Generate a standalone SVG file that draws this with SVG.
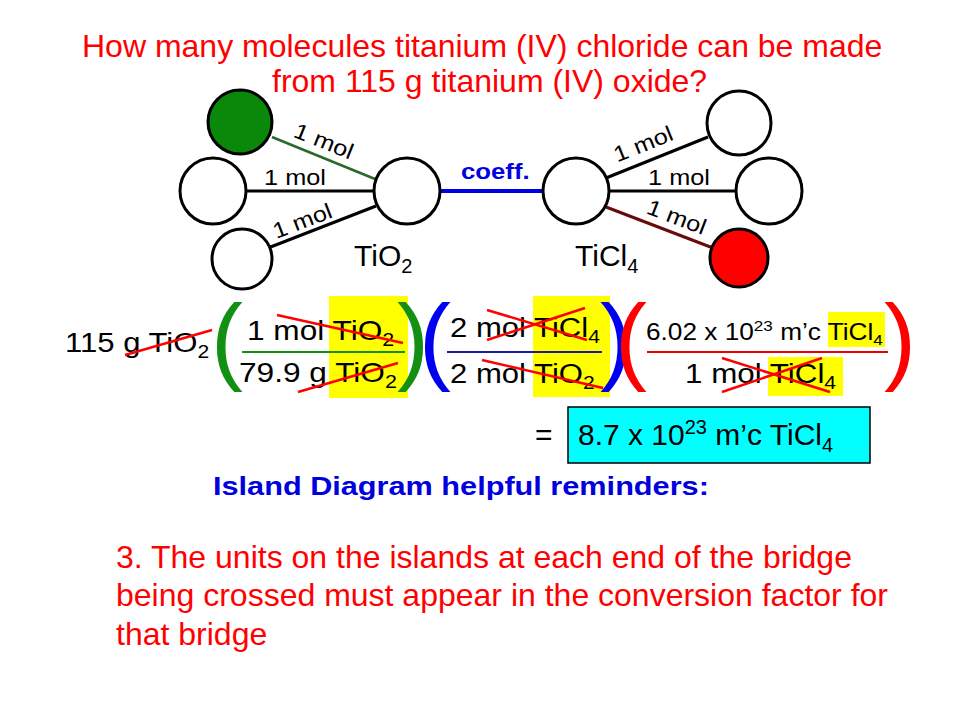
<svg xmlns="http://www.w3.org/2000/svg" width="960" height="720" viewBox="0 0 960 720">
<style>
text{font-family:"Liberation Sans",Arial,sans-serif;}
.isl{stroke:#000;stroke-width:3;fill:#fff;}
.lab{font-size:30px;fill:#000;}
.mol{font-size:22px;fill:#000;text-anchor:middle;}
.fr{font-size:28px;fill:#000;}
.strike{stroke:#f00;stroke-width:2.5;fill:none;}
.hl{fill:#ffff00;}
.par{font-size:96px;}
</style>
<rect width="960" height="720" fill="#fff"/>

<g id="title">
<text x="82" y="57" fill="#f00" font-size="32">How many molecules titanium (IV) chloride can be made</text>
<text x="272" y="92" fill="#f00" font-size="32">from 115 g titanium (IV) oxide?</text>
</g>

<g id="connectors">
<line x1="272" y1="137" x2="375" y2="179" stroke="#2a6a2a" stroke-width="2.5"/>
<line x1="246" y1="191" x2="374" y2="191" stroke="#000" stroke-width="3"/>
<line x1="268" y1="248" x2="376" y2="206" stroke="#000" stroke-width="3"/>
<line x1="440" y1="191" x2="543" y2="191" stroke="#0000e6" stroke-width="4"/>
<line x1="606" y1="178" x2="708" y2="137" stroke="#000" stroke-width="3"/>
<line x1="609" y1="191" x2="736" y2="191" stroke="#000" stroke-width="3"/>
<line x1="606" y1="207" x2="713" y2="248" stroke="#6a0a0a" stroke-width="3"/>
</g>

<g id="island-green"><circle class="isl" cx="240" cy="122" r="32" style="fill:#0a880a"/></g>
<g id="island-left-mid"><circle class="isl" cx="213" cy="191" r="33"/></g>
<g id="island-left-low"><circle class="isl" cx="242" cy="259" r="30"/></g>
<g id="island-tio2"><circle class="isl" cx="407" cy="191" r="33"/>
<text class="lab" x="354" y="266">TiO<tspan font-size="20" dy="7">2</tspan></text></g>
<g id="island-ticl4"><circle class="isl" cx="576" cy="191" r="33"/>
<text class="lab" x="575" y="266">TiCl<tspan font-size="20" dy="7">4</tspan></text></g>
<g id="island-right-top"><circle class="isl" cx="739" cy="123" r="32"/></g>
<g id="island-right-mid"><circle class="isl" cx="769" cy="191" r="33"/></g>
<g id="island-red"><circle class="isl" cx="739" cy="258" r="29" style="fill:#f00"/></g>

<g id="bridge-labels">
<text class="mol" transform="translate(321,148) rotate(22) scale(1.15,1)">1 mol</text>
<text class="mol" transform="translate(295,185) scale(1.15,1)">1 mol</text>
<text class="mol" transform="translate(305,228) rotate(-21) scale(1.15,1)">1 mol</text>
<text class="mol" transform="translate(646,151) rotate(-22) scale(1.15,1)">1 mol</text>
<text class="mol" transform="translate(679,185) scale(1.15,1)">1 mol</text>
<text class="mol" transform="translate(674,224) rotate(21) scale(1.15,1)">1 mol</text>
<text transform="translate(461,179) scale(1.17,1)" font-size="22" font-weight="bold" fill="#0000e0">coeff.</text>
</g>

<g id="calculation">
<rect class="hl" x="329" y="296" width="79" height="102"/>
<rect class="hl" x="533" y="296" width="77" height="101"/>
<rect class="hl" x="828" y="312" width="57" height="35"/>
<rect class="hl" x="768" y="357" width="75" height="39"/>

<text class="fr" transform="translate(65,352) scale(1.11,1)">115 g TiO<tspan font-size="19" dy="6">2</tspan></text>

<text class="par" x="211" y="372" fill="#139013">(</text>
<text class="par" x="397" y="372" fill="#139013">)</text>
<text class="par" x="419" y="372" fill="#0000f0">(</text>
<text class="par" x="600" y="372" fill="#0000f0">)</text>
<text class="par" x="615" y="372" fill="#f00">(</text>
<text class="par" x="884" y="372" fill="#f00">)</text>

<text class="fr" transform="translate(247,340) scale(1.13,1)">1 mol TiO<tspan font-size="19" dy="6">2</tspan></text>
<line x1="242" y1="352" x2="405" y2="352" stroke="#139013" stroke-width="2"/>
<text class="fr" transform="translate(239,382) scale(1.13,1)">79.9 g TiO<tspan font-size="19" dy="6">2</tspan></text>

<text class="fr" transform="translate(450,337) scale(1.11,1)">2 mol TiCl<tspan font-size="19" dy="6">4</tspan></text>
<line x1="447" y1="352" x2="602" y2="352" stroke="#1a1aa0" stroke-width="2"/>
<text class="fr" transform="translate(450,383) scale(1.11,1)">2 mol TiO<tspan font-size="19" dy="6">2</tspan></text>

<text transform="translate(646,340) scale(1.14,1)" font-size="23" fill="#000">6.02 x 10<tspan font-size="15" dy="-9">23</tspan><tspan dy="9"> m’c TiCl</tspan><tspan font-size="15" dy="5">4</tspan></text>
<line x1="647" y1="352" x2="888" y2="352" stroke="#e00" stroke-width="2"/>
<text class="fr" transform="translate(685,383) scale(1.12,1)">1 mol TiCl<tspan font-size="19" dy="6">4</tspan></text>

<line class="strike" x1="125" y1="355" x2="212" y2="330"/>
<line class="strike" x1="277" y1="315" x2="403" y2="343"/>
<line class="strike" x1="298" y1="392" x2="398" y2="363"/>
<line class="strike" x1="487" y1="310" x2="587" y2="340"/>
<line class="strike" x1="487" y1="340" x2="585" y2="308"/>
<line class="strike" x1="482" y1="360" x2="603" y2="388"/>
<line class="strike" x1="722" y1="358" x2="830" y2="392"/>
<line class="strike" x1="722" y1="392" x2="822" y2="358"/>
</g>

<g id="answer">
<text x="535" y="445" font-size="30" fill="#000">=</text>
<rect x="568" y="407" width="302" height="56" fill="#00ffff" stroke="#000" stroke-width="1.5"/>
<text x="578" y="445" font-size="30" fill="#000">8.7 x 10<tspan font-size="20" dy="-11">23</tspan><tspan dy="11"> m’c TiCl</tspan><tspan font-size="20" dy="7">4</tspan></text>
</g>

<g id="reminder">
<text transform="translate(213,495) scale(1.18,1)" font-size="26" font-weight="bold" fill="#0000dd">Island Diagram helpful reminders:</text>
<text x="116" y="568" font-size="32" fill="#f00">3. The units on the islands at each end of the bridge</text>
<text x="116" y="606" font-size="32" fill="#f00">being crossed must appear in the conversion factor for</text>
<text x="116" y="645" font-size="32" fill="#f00">that bridge</text>
</g>
</svg>
